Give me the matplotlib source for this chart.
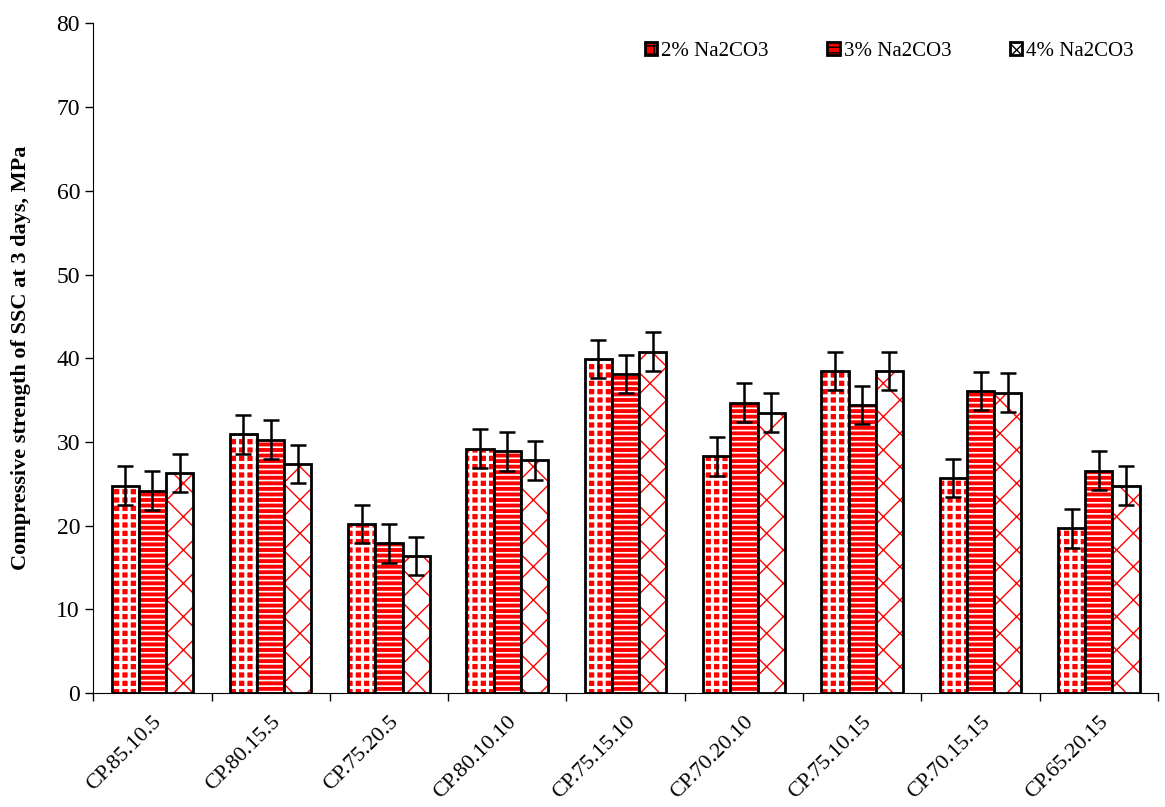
import numpy as np
import matplotlib as mpl
import matplotlib.pyplot as plt
from matplotlib.patches import Patch

plt.rcParams['font.family'] = ['Liberation Serif', 'DejaVu Serif']

mixes = ['CP.85.10.5', 'CP.80.15.5', 'CP.75.20.5', 'CP.80.10.10', 'CP.75.15.10',
         'CP.70.20.10', 'CP.75.10.15', 'CP.70.15.15', 'CP.65.20.15']
na2 = [24.8, 30.9, 20.2, 29.2, 39.9, 28.3, 38.5, 25.7, 19.7]
na3 = [24.2, 30.3, 17.9, 28.9, 38.1, 34.7, 34.4, 36.1, 26.6]
na4 = [26.3, 27.4, 16.4, 27.8, 40.8, 33.5, 38.5, 35.9, 24.8]
err = 2.3
labels = ['2% Na2CO3', '3% Na2CO3', '4% Na2CO3']

# stijl per reeks: vlakkleur, arceerkleur, arcering, arceerdikte
styles = [('#ff0000', 'white', '++', 2.2),
          ('#ff0000', 'white', '---', 1.2),
          ('white', '#ff0000', 'x', 1.0)]

fig = plt.figure(figsize=(11.65, 8.07), dpi=100)
ax = fig.add_axes([0.08, 0.141, 0.914, 0.83])

x = np.arange(len(mixes))
w = 0.23
handles = []
for i, vals in enumerate([na2, na3, na4]):
    fc, hc, h, hl = styles[i]
    pos = x + (i - 1) * w
    with mpl.rc_context({'hatch.linewidth': hl}):
        ax.bar(pos, vals, w, color=fc, edgecolor=hc, hatch=h, linewidth=0)
        handles.append(Patch(facecolor=fc, edgecolor='black', hatch=h, linewidth=2))
    ax.bar(pos, vals, w, fill=False, edgecolor='black', linewidth=2)
    ax.errorbar(pos, vals, yerr=err, fmt='none', ecolor='black',
                elinewidth=1.8, capsize=6, capthick=1.8)

ax.set_xlim(-0.5, len(mixes) - 0.5)
ax.set_ylim(0, 80)
ax.set_yticks(range(0, 81, 10))
ax.tick_params(axis='y', labelsize=17, length=6, width=1)
ax.set_xticks(x)
ax.set_xticklabels(mixes, rotation=45, ha='right', rotation_mode='anchor', fontsize=16)
ax.tick_params(axis='x', which='major', length=0, pad=14)
ax.set_xticks(np.arange(-0.5, len(mixes)), minor=True)
ax.tick_params(axis='x', which='minor', length=6, width=1)
ax.spines['top'].set_visible(False)
ax.spines['right'].set_visible(False)
ax.set_ylabel('Compressive strength of SSC at 3 days, MPa', fontsize=16,
              fontweight='bold', labelpad=18)

ax.legend(handles, labels, ncol=3, frameon=False, loc='upper right',
          bbox_to_anchor=(0.995, 1.0), fontsize=15, handlelength=0.6, handleheight=0.6,
          columnspacing=2.8, handletextpad=0.2)

plt.savefig('out.png', dpi=100)
